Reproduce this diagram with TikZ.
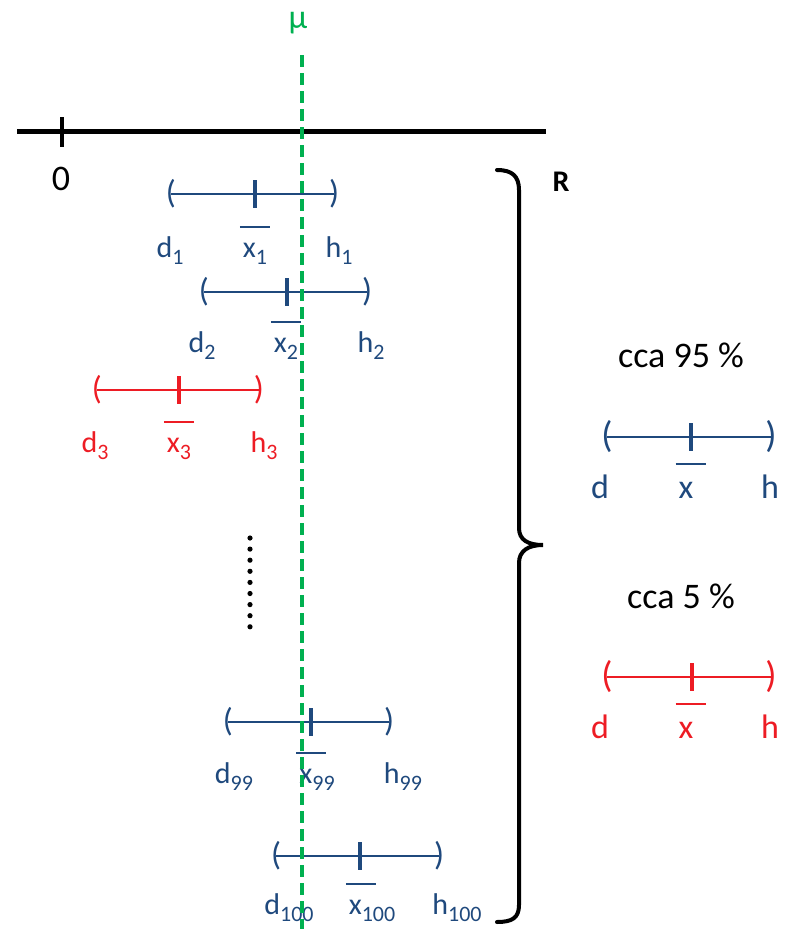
\documentclass[tikz,border=0pt]{standalone}
\usepackage{fontspec}
\setmainfont{Carlito}
\usetikzlibrary{positioning}
\definecolor{cNavy}{RGB}{31,73,125}
\definecolor{cRed}{RGB}{237,28,36}
\definecolor{cGreen}{RGB}{0,176,80}
\newcommand{\sbs}[1]{\raisebox{-0.24em}{\fontsize{22}{24}\selectfont #1}}
\newcommand{\xbar}[1]{\rlap{\kern-3pt\raisebox{0.98em}{\rule{30pt}{1.8pt}}}x\sbs{#1}}
\tikzset{
	lbl/.style={inner sep=0pt, anchor=base, font=\fontsize{30}{34}\selectfont},
	leglbl/.style={inner sep=0pt, anchor=base, font=\fontsize{34}{38}\selectfont},
	paren/.style={inner sep=0pt, font=\fontsize{33}{38}\selectfont},
	legparen/.style={inner sep=0pt, font=\fontsize{37}{42}\selectfont},
	txt/.style={inner sep=0pt, anchor=base, font=\fontsize{36}{42}\selectfont},
	iline/.style={line width=2.2pt},
	itick/.style={line width=3.8pt},
	axline/.style={line width=5pt, draw=black},
	mudash/.style={line width=3.5pt, draw=cGreen, dash pattern=on 12pt off 6pt},
	brace/.style={line width=4pt, draw=black, line cap=round},
}

\begin{document}
\begin{tikzpicture}[x=1pt,y=-1pt]
	\useasboundingbox (0,0) rectangle (788,929);

	% Axis with zero
	\coordinate (axl) at (17,131);
	\coordinate (axr) at (546,131);
	\draw[axline] (axl) -- (axr);
	\draw[line width=3.5pt] (62,117) -- (62,147);
	\node[txt] at (61,190) (zero) {0};

	% Mean label
	\node[inner sep=0pt, text=cGreen, font=\fontsize{34}{38}\selectfont] at (298,23) (mu) {μ};
	\coordinate (mutop) at (302,55);
	\coordinate (mubot) at (302,929);

	% Interval 1
	\node[paren,text=cNavy] at (171,194) (l1) {(};
	\node[paren,text=cNavy] at (334,194) (r1) {)};
	\coordinate (t1) at (255,194);
	\draw[iline,cNavy] (l1.center) -- (r1.center);
	\draw[itick,cNavy] (t1) ++(0,-14) -- ++(0,28);
	\node[lbl,text=cNavy] at (170,257) (d1) {d\sbs{1}};
	\node[lbl,text=cNavy] at (255,257) (x1) {\xbar{1}};
	\node[lbl,text=cNavy] at (339,257) (h1) {h\sbs{1}};

	% Interval 2
	\node[paren,text=cNavy] at (204,292) (l2) {(};
	\node[paren,text=cNavy] at (367,292) (r2) {)};
	\coordinate (t2) at (287,292);
	\draw[iline,cNavy] (l2.center) -- (r2.center);
	\draw[itick,cNavy] (t2) ++(0,-14) -- ++(0,28);
	\node[lbl,text=cNavy] at (202,352) (d2) {d\sbs{2}};
	\node[lbl,text=cNavy] at (286,352) (x2) {\xbar{2}};
	\node[lbl,text=cNavy] at (371,352) (h2) {h\sbs{2}};

	% Interval 3 (misses mu)
	\node[paren,text=cRed] at (97,390) (l3) {(};
	\node[paren,text=cRed] at (259,390) (r3) {)};
	\coordinate (t3) at (179,390);
	\draw[iline,cRed] (l3.center) -- (r3.center);
	\draw[itick,cRed] (t3) ++(0,-14) -- ++(0,28);
	\node[lbl,text=cRed] at (95,452) (d3) {d\sbs{3}};
	\node[lbl,text=cRed] at (179,452) (x3) {\xbar{3}};
	\node[lbl,text=cRed] at (264,452) (h3) {h\sbs{3}};

	% Dots
	\foreach \i in {0,...,8}
		\fill (250,538+11.1*\i) circle (2.6pt);

	% Interval 99
	\node[paren,text=cNavy] at (228,722) (l99) {(};
	\node[paren,text=cNavy] at (389,722) (r99) {)};
	\coordinate (t99) at (311,722);
	\draw[iline,cNavy] (l99.center) -- (r99.center);
	\draw[itick,cNavy] (t99) ++(0,-14) -- ++(0,28);
	\node[lbl,text=cNavy] at (234,783) (d99) {d\sbs{99}};
	\node[lbl,text=cNavy] at (317,783) (x99) {\xbar{99}};
	\node[lbl,text=cNavy] at (403,783) (h99) {h\sbs{99}};

	% Interval 100
	\node[paren,text=cNavy] at (276,856) (l100) {(};
	\node[paren,text=cNavy] at (439,856) (r100) {)};
	\coordinate (t100) at (360,856);
	\draw[iline,cNavy] (l100.center) -- (r100.center);
	\draw[itick,cNavy] (t100) ++(0,-14) -- ++(0,28);
	\node[lbl,text=cNavy] at (289,914) (d100) {d\sbs{100}};
	\node[lbl,text=cNavy] at (372,914) (x100) {\xbar{100}};
	\node[lbl,text=cNavy] at (457,914) (h100) {h\sbs{100}};

	% Mean line on top
	\draw[mudash] (mutop) -- (mubot);

	% Brace
	\draw[brace] (497,170) .. controls (512,170) and (519,176) .. (519,190)
		-- (519,528) .. controls (519,540) and (528,545) .. (543,545)
		.. controls (528,545) and (519,551) .. (519,563)
		-- (519,905) .. controls (519,918) and (512,922) .. (497,922);
	\node[inner sep=0pt, font=\fontsize{30}{34}\selectfont\bfseries] at (561,182) (R) {R};

	% Legend, about 95 %
	\node[txt] at (681,367) (p95) {cca 95 \%};
	\node[legparen,text=cNavy] at (607,437) (lb) {(};
	\node[legparen,text=cNavy] at (771,437) (rb) {)};
	\coordinate (tb) at (691,437);
	\draw[iline,cNavy] (lb.center) -- (rb.center);
	\draw[itick,cNavy] (tb) ++(0,-14) -- ++(0,28);
	\node[leglbl,text=cNavy] at (600,498) (db) {d};
	\node[leglbl,text=cNavy] at (686,498) (xb) {\xbar{}};
	\node[leglbl,text=cNavy] at (770,498) (hb) {h};

	% Legend, about 5 %
	\node[txt] at (681,608) (p5) {cca 5 \%};
	\node[legparen,text=cRed] at (607,677) (lr) {(};
	\node[legparen,text=cRed] at (771,677) (rr) {)};
	\coordinate (tr) at (692,677);
	\draw[iline,cRed] (lr.center) -- (rr.center);
	\draw[itick,cRed] (tr) ++(0,-14) -- ++(0,28);
	\node[leglbl,text=cRed] at (600,738) (dr) {d};
	\node[leglbl,text=cRed] at (686,738) (xr) {\xbar{}};
	\node[leglbl,text=cRed] at (770,738) (hr) {h};
\end{tikzpicture}
\end{document}
